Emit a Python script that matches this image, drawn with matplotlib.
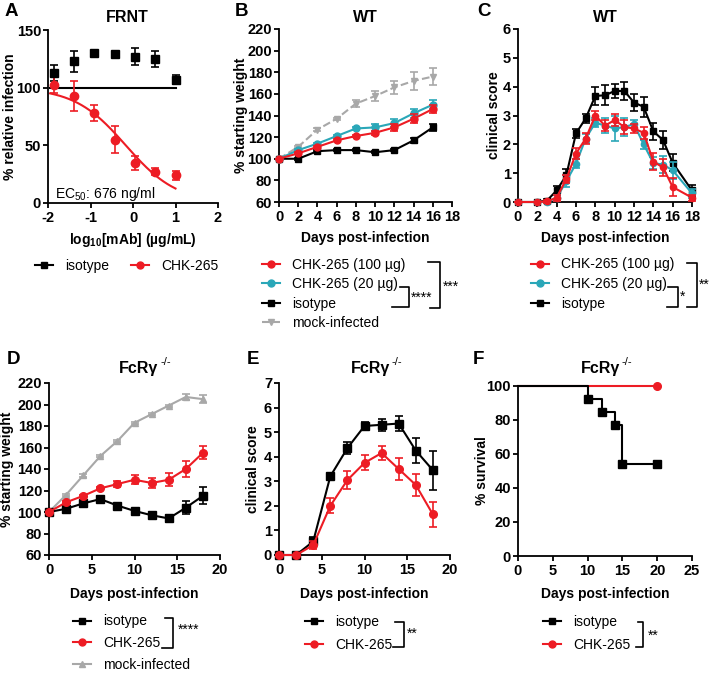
import numpy as np
import matplotlib
matplotlib.use("Agg")
import matplotlib.pyplot as plt
from matplotlib.lines import Line2D

plt.rcParams['font.family'] = ['Liberation Sans', 'DejaVu Sans']
plt.rcParams['mathtext.fontset'] = 'custom'
plt.rcParams['mathtext.rm'] = 'Liberation Sans'
plt.rcParams['mathtext.bf'] = 'Liberation Sans:bold'
plt.rcParams['mathtext.it'] = 'Liberation Sans:italic'

RED = '#ED1C24'
CYAN = '#2AA7B8'
GRAY = '#A8A8A8'
BLACK = 'black'

# A: FRNT
log_mab = [-1.86, -1.38, -0.91, -0.43, 0.05, 0.52, 1.0]
frnt_iso = [113, 123, 130, 129, 127, 125, 107]
frnt_iso_err = [7, 9, 1, 1, 7, 7, 4]
frnt_chk = [102, 93, 78, 55, 35, 27, 24]
frnt_chk_err = [7, 13, 7, 12, 6, 3, 4]
ec50_ug = 0.676
hill = 0.72
fit_top, fit_bottom = 100, 0

# B: WT weight
days_b = [0, 2, 4, 6, 8, 10, 12, 14, 16]
wt_w_chk100 = [100, 105, 111, 117, 121, 124, 129, 137, 146]
wt_w_chk100_err = [0, 1, 1, 1, 1, 2, 3, 4, 4]
wt_w_chk20 = [100, 108, 114, 121, 128, 129, 133, 142, 150]
wt_w_chk20_err = [0, 1, 1, 1, 1, 3, 4, 4, 4]
wt_w_iso = [100, 100, 107, 108, 108, 106, 108, 117, 129]
wt_w_iso_err = [0, 1, 1, 1, 1, 1, 1, 2, 3]
wt_w_mock = [100, 111, 127, 137, 151, 158, 166, 172, 176]
wt_w_mock_err = [0, 1, 1, 1, 3, 5, 6, 8, 8]

# C: WT clinical score
days_c = [0, 2, 3, 4, 5, 6, 7, 8, 9, 10, 11, 12, 13, 14, 15, 16, 18]
wt_s_iso = [0, 0, 0.05, 0.4, 0.93, 2.38, 2.9, 3.68, 3.7, 3.85, 3.85, 3.45, 3.3, 2.45, 2.15, 1.36, 0.4]
wt_s_iso_err = [0, 0, 0.05, 0.15, 0.2, 0.15, 0.15, 0.3, 0.35, 0.25, 0.3, 0.3, 0.35, 0.3, 0.3, 0.3, 0.2]
wt_s_chk20 = [0, 0, 0, 0.15, 0.72, 1.33, 2.2, 2.75, 2.65, 2.55, 2.6, 2.7, 2.0, 1.35, 1.3, 1.1, 0.3]
wt_s_chk20_err = [0, 0, 0, 0.1, 0.2, 0.15, 0.15, 0.15, 0.25, 0.45, 0.3, 0.15, 0.15, 0.2, 0.3, 0.3, 0.15]
wt_s_chk100 = [0, 0, 0.02, 0.15, 0.8, 1.68, 2.2, 3.0, 2.65, 2.84, 2.6, 2.55, 2.4, 1.4, 1.2, 0.52, 0.15]
wt_s_chk100_err = [0, 0, 0.05, 0.1, 0.15, 0.2, 0.2, 0.15, 0.2, 0.2, 0.25, 0.15, 0.2, 0.3, 0.3, 0.3, 0.1]

# D: FcRg-/- weight
days_d = [0, 2, 4, 6, 8, 10, 12, 14, 16, 18]
fc_w_iso = [100, 103, 108, 112, 106, 101, 97, 94, 104, 115]
fc_w_iso_err = [0, 1, 1, 1, 1, 1, 1, 3, 6, 8]
fc_w_chk = [100, 109, 115, 122, 126, 130, 127, 130, 140, 155]
fc_w_chk_err = [0, 1, 1, 1, 3, 4, 5, 6, 7, 6]
fc_w_mock = [100, 116, 134, 152, 166, 183, 191, 199, 207, 205]
fc_w_mock_err = [0, 1, 1, 1, 1, 1, 1, 1, 3, 4]

# E: FcRg-/- clinical score
days_e = [0, 2, 4, 6, 8, 10, 12, 14, 16, 18]
fc_s_iso = [0, 0, 0.55, 3.2, 4.35, 5.25, 5.3, 5.35, 4.25, 3.45]
fc_s_iso_err = [0, 0, 0.2, 0.1, 0.25, 0.15, 0.25, 0.3, 0.5, 0.8]
fc_s_chk = [0, 0, 0.4, 2.0, 3.05, 3.75, 4.15, 3.5, 2.85, 1.65]
fc_s_chk_err = [0, 0, 0.15, 0.3, 0.35, 0.3, 0.3, 0.45, 0.45, 0.5]

# F: survival
surv_days_iso = [0, 10, 12, 14, 15, 20]
surv_iso = [100, 92.3, 84.6, 76.9, 53.8, 53.8]
surv_days_chk = [0, 20]
surv_chk = [100, 100]

W, H = 711, 673
fig = plt.figure(figsize=(W / 100, H / 100), dpi=100)


def fmt(v):
    return str(int(v)) if float(v).is_integer() else str(v)


def panel(box, xlim, xticks, ylim, yticks):
    x0, y0, x1, y1 = box
    ax = fig.add_axes([x0 / W, 1 - y1 / H, (x1 - x0) / W, (y1 - y0) / H])
    ax.set_xlim(*xlim)
    ax.set_ylim(*ylim)
    ax.set_xticks(xticks, [fmt(t) for t in xticks], fontweight='bold')
    ax.set_yticks(yticks, [fmt(t) for t in yticks], fontweight='bold')
    for s in ['top', 'right']:
        ax.spines[s].set_visible(False)
    for s in ['left', 'bottom']:
        ax.spines[s].set_linewidth(1.3)
    ax.tick_params(width=1.3, length=3.5, labelsize=10.5)
    ax.tick_params(axis='y', pad=1.5)
    ax.tick_params(axis='x', pad=2.5)
    return ax


def labels(ax, box, xlabel, ylabel, ylab_px, xlab_px):
    x0, y0, x1, y1 = box
    ax.set_xlabel(xlabel, fontsize=10, fontweight='bold')
    ax.set_ylabel(ylabel, fontsize=10, fontweight='bold')
    ax.yaxis.set_label_coords((ylab_px - x0) / (x1 - x0), 0.5)
    ax.xaxis.set_label_coords(0.5, (y1 - xlab_px) / (y1 - y0))


def series(ax, x, y, err, color, marker, ms, ls='-', z=3):
    ax.errorbar(x, y, yerr=err, fmt='none', ecolor=color, elinewidth=1.2,
                capsize=2.8, capthick=1.2, zorder=z, clip_on=False)
    ax.plot(x, y, color=color, marker=marker, ms=ms, ls=ls, lw=1.5,
            zorder=z, clip_on=False)


def handle(color, marker, ls='-'):
    return Line2D([0], [0], color=color, marker=marker, ms=5, lw=1.5, ls=ls)


def legend(handles, texts, x_px, y_px, spacing, ncol=1):
    fig.legend(handles, texts, loc='center left',
               bbox_to_anchor=(x_px / W, 1 - y_px / H), frameon=False,
               fontsize=10, handlelength=1.3, handletextpad=0.85,
               labelspacing=spacing, borderpad=0, borderaxespad=0,
               ncol=ncol, columnspacing=1.6)


# ---------- A
boxA = (48, 30, 218, 203)
axA = panel(boxA, (-2, 2), [-2, -1, 0, 1, 2], (0, 150), [0, 50, 100, 150])
fit_x = np.linspace(-1.95, 1.0, 200)
fit_chk = fit_bottom + (fit_top - fit_bottom) / (1 + 10 ** ((fit_x - np.log10(ec50_ug)) * hill))
axA.plot(fit_x, np.full_like(fit_x, fit_top), color=BLACK, lw=1.5)
axA.plot(fit_x, fit_chk, color=RED, lw=1.5)
axA.errorbar(log_mab, frnt_iso, yerr=frnt_iso_err, fmt='s', color=BLACK, ms=6,
             elinewidth=1.2, capsize=2.8, capthick=1.2)
axA.errorbar(log_mab, frnt_chk, yerr=frnt_chk_err, fmt='o', color=RED, ms=6,
             elinewidth=1.2, capsize=2.8, capthick=1.2)
axA.text(-1.84, 4.5, r'EC$_{50}$: 676 ng/ml', fontsize=10, va='baseline')
labels(axA, boxA, r'log$_{\mathbf{10}}$[mAb] (µg/mL)', '% relative infection', 17, 231)
legend([handle(BLACK, 's'), handle(RED, 'o')], ['isotype', 'CHK-265'], 35, 266, 0.3, ncol=2)

# ---------- B
boxB = (279, 29, 452, 202)
axB = panel(boxB, (0, 18), list(range(0, 19, 2)), (60, 220), list(range(60, 221, 20)))
series(axB, days_b, wt_w_mock, wt_w_mock_err, GRAY, 'v', 5, ls='--')
series(axB, days_b, wt_w_iso, wt_w_iso_err, BLACK, 's', 5)
series(axB, days_b, wt_w_chk20, wt_w_chk20_err, CYAN, 'o', 5)
series(axB, days_b, wt_w_chk100, wt_w_chk100_err, RED, 'o', 5)
labels(axB, boxB, 'Days post-infection', '% starting weight', 248, 231)
legend([handle(RED, 'o'), handle(CYAN, 'o'), handle(BLACK, 's'), handle(GRAY, 'v', '--')],
       ['CHK-265 (100 µg)', 'CHK-265 (20 µg)', 'isotype', 'mock-infected'], 262, 294, 0.4)

# ---------- C
boxC = (518, 29, 692, 202)
axC = panel(boxC, (0, 18), list(range(0, 19, 2)), (0, 6), list(range(0, 7)))
series(axC, days_c, wt_s_iso, wt_s_iso_err, BLACK, 's', 4.5)
series(axC, days_c, wt_s_chk20, wt_s_chk20_err, CYAN, 'o', 4.5)
series(axC, days_c, wt_s_chk100, wt_s_chk100_err, RED, 'o', 4.5)
labels(axC, boxC, 'Days post-infection', 'clinical score', 501, 231)
legend([handle(RED, 'o'), handle(CYAN, 'o'), handle(BLACK, 's')],
       ['CHK-265 (100 µg)', 'CHK-265 (20 µg)', 'isotype'], 531, 284, 0.4)

# ---------- D
boxD = (49, 383, 220, 555)
axD = panel(boxD, (0, 20), [0, 5, 10, 15, 20], (60, 220), list(range(60, 221, 20)))
series(axD, days_d, fc_w_mock, fc_w_mock_err, GRAY, '^', 5)
series(axD, days_d, fc_w_iso, fc_w_iso_err, BLACK, 's', 5.5)
series(axD, days_d, fc_w_chk, fc_w_chk_err, RED, 'o', 5.5)
labels(axD, boxD, 'Days post-infection', '% starting weight', 14, 587)
legend([handle(BLACK, 's'), handle(RED, 'o'), handle(GRAY, '^')],
       ['isotype', 'CHK-265', 'mock-infected'], 73, 643, 0.55)

# ---------- E
boxE = (279, 383, 450, 555)
axE = panel(boxE, (0, 20), [0, 5, 10, 15, 20], (0, 7), list(range(0, 8)))
series(axE, days_e, fc_s_iso, fc_s_iso_err, BLACK, 's', 5.5)
series(axE, days_e, fc_s_chk, fc_s_chk_err, RED, 'o', 5.5)
labels(axE, boxE, 'Days post-infection', 'clinical score', 260, 587)
legend([handle(BLACK, 's'), handle(RED, 'o')], ['isotype', 'CHK-265'], 305, 633.5, 0.62)

# ---------- F
boxF = (518, 385.5, 692, 556)
axF = panel(boxF, (0, 25), [0, 5, 10, 15, 20, 25], (0, 100), [0, 20, 40, 60, 80, 100])
axF.step(surv_days_chk, surv_chk, where='post', color=RED, lw=1.5, clip_on=False)
axF.plot(surv_days_chk[-1:], surv_chk[-1:], 'o', color=RED, ms=5.5, clip_on=False)
axF.step(surv_days_iso, surv_iso, where='post', color=BLACK, lw=1.5, clip_on=False)
axF.plot(surv_days_iso[1:], surv_iso[1:], 's', color=BLACK, ms=5.5, clip_on=False)
labels(axF, boxF, 'Days post-infection', '% survival', 489, 587)
legend([handle(BLACK, 's'), handle(RED, 'o')], ['isotype', 'CHK-265'], 543, 633.5, 0.62)

# ---------- overlay: panel letters, titles, significance brackets
ov = fig.add_axes([0, 0, 1, 1])
ov.set_xlim(0, W)
ov.set_ylim(H, 0)
ov.axis('off')
ov.patch.set_alpha(0)

for letter, (lx, ly) in zip('ABCDEF', [(5, 11), (235, 11), (477, 11), (7, 359), (247, 359), (473, 359)]):
    ov.text(lx, ly, letter, fontsize=13.5, fontweight='bold', ha='left', va='center')

for txt, tx in zip(['FRNT', 'WT', 'WT'], [127, 365, 605]):
    ov.text(tx, 21.5, txt, fontsize=11.5, fontweight='bold', ha='center', va='baseline')

for tx in [139, 370, 600]:
    t = ov.text(tx, 373, 'FcRγ', fontsize=11.5, fontweight='bold', ha='center', va='baseline')
    ov.annotate('-/-', xy=(1.0, 0.95), xycoords=t, xytext=(1, 0), textcoords='offset points',
                fontsize=8, ha='left', va='center')

brackets = [
    ([400, 409, 409, 392], [287, 287, 307, 307], '****', 411, 298),
    ([428, 440, 440, 430], [262, 262, 308, 308], '***', 443, 287),
    ([668, 678, 678, 667], [287, 287, 307, 307], '*', 680, 297),
    ([687, 697, 697, 687], [263, 263, 307, 307], '**', 699, 285),
    ([165, 173, 173, 162], [618, 618, 648, 648], '****', 178, 630),
    ([395, 404, 404, 393], [622, 622, 647, 647], '**', 407, 634),
    ([638, 643, 643, 636], [622, 622, 647, 647], '**', 648, 636),
]
for bx, by, stars, sx, sy in brackets:
    ov.plot(bx, by, color=BLACK, lw=1.2)
    ov.text(sx, sy, stars, fontsize=10, ha='left', va='center')

fig.savefig('out.png', dpi=100)
